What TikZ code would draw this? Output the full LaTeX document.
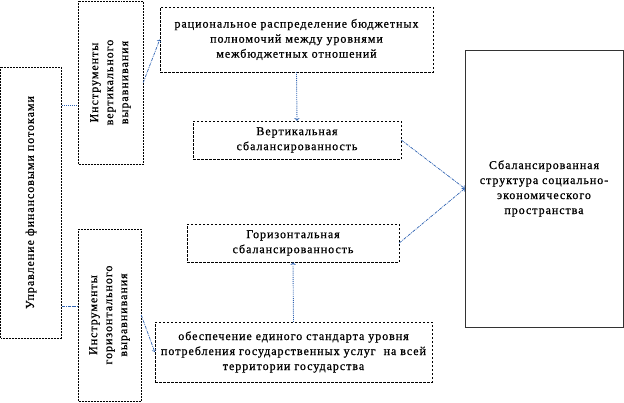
\documentclass[tikz,border=0pt]{standalone}
\usepackage{fontspec}
\setmainfont{Liberation Serif}[LetterSpace=8, FakeBold=0.8]
\usetikzlibrary{calc, positioning}
\definecolor{lnk}{RGB}{46,98,178}

\begin{document}
\begin{tikzpicture}[x=1pt,y=-1pt,
  box/.style={draw, line width=0.5pt, align=center, inner sep=2pt,
    font=\fontsize{12}{15}\selectfont},
  dotbox/.style={box, densely dotted},
  dashbox/.style={box, dash pattern=on 2.5pt off 1.5pt},
  link/.style={draw=lnk, line width=0.7pt, dash pattern=on 3pt off 1pt on 0.8pt off 1pt},
  arr/.style={link, ->, >=to}]
\useasboundingbox (0,0) rectangle (624,402);
\node[dotbox, rotate=90, minimum width=271pt, minimum height=61pt] (upr) at (31,202.5) {Управление финансовыми потоками};
\node[dotbox, rotate=90, minimum width=163pt, minimum height=65pt] (vinstr) at (110.5,82.5) {Инструменты\\вертикального\\выравнивания};
\node[dotbox, rotate=90, minimum width=172pt, minimum height=63pt] (ginstr) at (109.5,315) {Инструменты\\горизонтального\\выравнивания};
\node[dashbox, minimum width=273pt, minimum height=65pt] (rasp) at (296.5,39.5) {рациональное распределение бюджетных\\полномочий между уровнями\\межбюджетных отношений};
\node[dashbox, minimum width=208pt, minimum height=38pt] (vbal) at (297,140) {Вертикальная\\сбалансированность};
\node[dashbox, minimum width=212pt, minimum height=38pt] (gbal) at (293,243) {Горизонтальная\\сбалансированность};
\node[dashbox, minimum width=277pt, minimum height=60pt] (obesp) at (293.5,352) {обеспечение единого стандарта уровня\\потребления государственных услуг~ на всей\\территории государства};
\node[box, draw=black!80, minimum width=158pt, minimum height=277pt] (struct) at (544,188.5) {Сбалансированная\\структура социально-\\экономического\\пространства};
\coordinate (vlev) at (0,105);
\coordinate (glev) at (0,306);
\draw[link, line width=1pt, densely dotted] (upr.south |- vlev) -- (vinstr.north |- vlev);
\draw[link] (upr.south |- glev) -- (ginstr.north |- glev);
\draw[arr] (vinstr.south) -- (rasp.west);
\draw[arr] (ginstr.south) -- (obesp.west);
\draw[arr, line width=0.9pt, densely dotted] (rasp.south) -- (vbal.north);
\draw[arr, line width=0.9pt, densely dotted] (obesp.north) -- (gbal.south);
\draw[arr] (vbal.east) -- (struct.west);
\draw[arr] (gbal.east) -- (struct.west);
\end{tikzpicture}
\end{document}
